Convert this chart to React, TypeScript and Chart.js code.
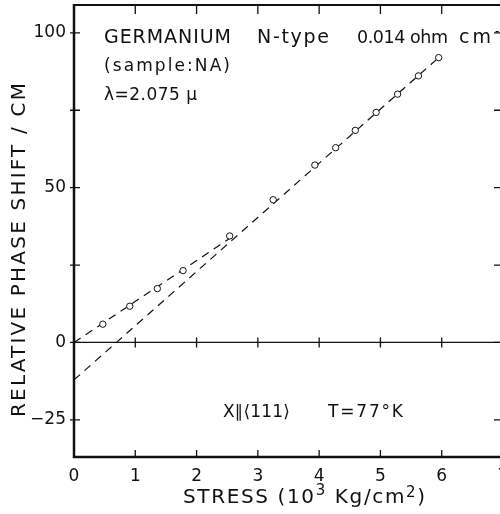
import React, { useEffect, useRef } from "react";
import { Chart, registerables } from "chart.js";

Chart.register(...registerables);

// ---- data ----
const stressX = [0.47, 0.91, 1.36, 1.78, 2.54, 3.25, 3.93, 4.27, 4.59, 4.93, 5.28, 5.62, 5.95];
const phaseY = [5.9, 11.7, 17.4, 23.2, 34.4, 46.1, 57.3, 62.9, 68.5, 74.3, 80.2, 86.1, 92.0];
const lowFitX = [0, 2.54];
const lowFitY = [0, 33.6];
const highFitX = [0, 5.95];
const highFitY = [-12.1, 92.0];
const xTickValues = [0, 1, 2, 3, 4, 5, 6, 7];
const xTickLabels = ["0", "1", "2", "3", "4", "5", "6", "7"];
const yTickValues = [-25, 0, 25, 50, 75, 100];
const yTickLabels = ["\u221225", "0", "", "50", "", "100"];
const X_MIN = 0;
const X_MAX = 7;
const Y_MIN = -37;
const Y_MAX = 109;

const FONT = '"DejaVu Sans", sans-serif';
const INK = "#111";

type Run = { s: string; size: number; rise?: number };

function drawRuns(ctx: CanvasRenderingContext2D, runs: Run[], x: number, y: number, width?: number) {
  let total = 0;
  let chars = 0;
  const nat: number[] = [];
  for (const r of runs) {
    ctx.font = `${r.size}px ${FONT}`;
    (ctx as any).letterSpacing = "0px";
    const w = ctx.measureText(r.s).width;
    nat.push(w);
    total += w;
    chars += Array.from(r.s).length;
  }
  const ls = width !== undefined ? (width - total) / Math.max(1, chars - 1) : 0;
  let cx = x;
  runs.forEach((r, i) => {
    ctx.font = `${r.size}px ${FONT}`;
    (ctx as any).letterSpacing = `${ls}px`;
    ctx.fillText(r.s, cx, y - (r.rise || 0));
    cx += nat[i] + ls * Array.from(r.s).length;
  });
  (ctx as any).letterSpacing = "0px";
  return cx;
}

const framePlugin = {
  id: "frame",
  beforeDatasetsDraw(chart: any) {
    const { ctx, chartArea, scales } = chart;
    const { left, right, top, bottom } = chartArea;
    const xs = scales.x;
    const ys = scales.y;
    ctx.save();
    ctx.strokeStyle = INK;
    ctx.lineCap = "butt";
    ctx.lineWidth = 2.5;
    ctx.beginPath();
    ctx.moveTo(left, top - 1);
    ctx.lineTo(left, bottom);
    ctx.lineTo(right + 2, bottom);
    ctx.stroke();
    ctx.lineWidth = 2;
    ctx.beginPath();
    ctx.moveTo(left, top);
    ctx.lineTo(right + 2, top);
    ctx.stroke();
    const y0 = ys.getPixelForValue(0);
    ctx.lineWidth = 1.2;
    ctx.beginPath();
    ctx.moveTo(left, y0);
    ctx.lineTo(right + 2, y0);
    ctx.stroke();
    ctx.lineWidth = 1.3;
    for (const v of xTickValues) {
      if (v === X_MIN || v === X_MAX) continue;
      const px = xs.getPixelForValue(v);
      ctx.beginPath();
      ctx.moveTo(px, top);
      ctx.lineTo(px, top + 9);
      ctx.moveTo(px, bottom);
      ctx.lineTo(px, bottom - 7);
      ctx.moveTo(px, y0 - 5);
      ctx.lineTo(px, y0 + 5);
      ctx.stroke();
    }
    for (const v of yTickValues) {
      const py = ys.getPixelForValue(v);
      ctx.beginPath();
      ctx.moveTo(left - 4, py);
      ctx.lineTo(left + 6, py);
      ctx.moveTo(right - 9, py);
      ctx.lineTo(right, py);
      ctx.stroke();
    }
    ctx.restore();
  },
  afterDraw(chart: any) {
    const { ctx } = chart;
    ctx.save();
    ctx.fillStyle = INK;
    ctx.textAlign = "left";
    ctx.textBaseline = "alphabetic";
    drawRuns(ctx, [{ s: "GERMANIUM", size: 19 }], 104, 43, 127);
    drawRuns(ctx, [{ s: "N-type", size: 19 }], 257, 43, 72);
    drawRuns(ctx, [{ s: "0.014 ohm", size: 17.5 }], 357, 43, 91);
    drawRuns(ctx, [{ s: "cm", size: 19 }], 459, 43, 32);
    drawRuns(ctx, [{ s: "-1", size: 12 }], 495, 35);
    drawRuns(ctx, [{ s: "(sample:NA)", size: 17 }], 104, 71, 126);
    drawRuns(ctx, [{ s: "\u03bb=2.075 \u03bc", size: 17 }], 104, 100, 93);
    drawRuns(ctx, [{ s: "X\u2225\u27e8111\u27e9", size: 17 }], 223, 417, 67);
    drawRuns(ctx, [{ s: "T=77\u00b0K", size: 17 }], 328, 417, 75);
    drawRuns(
      ctx,
      [
        { s: "STRESS (10", size: 20 },
        { s: "3", size: 15, rise: 8 },
        { s: " Kg/cm", size: 20 },
        { s: "2", size: 15, rise: 6 },
        { s: ")", size: 20 },
      ],
      183,
      503,
      242
    );
    ctx.translate(25, 250);
    ctx.rotate(-Math.PI / 2);
    drawRuns(ctx, [{ s: "RELATIVE PHASE SHIFT / CM", size: 20 }], -167, 0, 334);
    ctx.restore();
  },
};

function noPad(s: any) {
  s.paddingTop = 0;
  s.paddingBottom = 0;
  s.paddingLeft = 0;
  s.paddingRight = 0;
}

export default function App() {
  const ref = useRef<HTMLCanvasElement | null>(null);
  useEffect(() => {
    if (!ref.current) return;
    const chart = new Chart(ref.current, {
      type: "scatter",
      data: {
        datasets: [
          {
            label: "measured",
            data: stressX.map((x, i) => ({ x, y: phaseY[i] })),
            pointRadius: 3.2,
            pointBorderWidth: 1,
            pointBackgroundColor: "#fff",
            pointBorderColor: INK,
            showLine: false,
          },
          {
            label: "low-stress fit",
            data: lowFitX.map((x, i) => ({ x, y: lowFitY[i] })),
            showLine: true,
            borderColor: INK,
            borderWidth: 1.2,
            borderDash: [8, 6],
            pointRadius: 0,
          },
          {
            label: "high-stress fit",
            data: highFitX.map((x, i) => ({ x, y: highFitY[i] })),
            showLine: true,
            borderColor: INK,
            borderWidth: 1.2,
            borderDash: [8, 6],
            pointRadius: 0,
          },
        ],
      },
      options: {
        animation: false,
        responsive: false,
        layout: { padding: { left: 0, top: 4, right: 17, bottom: 0 } },
        plugins: { legend: { display: false }, tooltip: { enabled: false } },
        scales: {
          x: {
            type: "linear",
            min: X_MIN,
            max: X_MAX,
            afterFit: (s: any) => {
              s.height = 57;
              noPad(s);
            },
            afterBuildTicks: (s: any) => {
              s.ticks = xTickValues.map((v) => ({ value: v }));
            },
            grid: { display: false, drawTicks: false },
            border: { display: false },
            ticks: {
              padding: 9,
              color: INK,
              font: { family: FONT, size: 17 },
              maxRotation: 0,
              autoSkip: false,
              callback: (v: any) => xTickLabels[xTickValues.indexOf(Number(v))] ?? "",
            },
          },
          y: {
            type: "linear",
            min: Y_MIN,
            max: Y_MAX,
            afterFit: (s: any) => {
              s.width = 74;
              noPad(s);
            },
            afterBuildTicks: (s: any) => {
              s.ticks = yTickValues.map((v) => ({ value: v }));
            },
            grid: { display: false, drawTicks: false },
            border: { display: false },
            ticks: {
              padding: 8,
              color: INK,
              font: { family: FONT, size: 17 },
              autoSkip: false,
              callback: (v: any) => yTickLabels[yTickValues.indexOf(Number(v))] ?? "",
            },
          },
        },
      },
      plugins: [framePlugin],
    });
    return () => chart.destroy();
  }, []);

  return (
    <div
      style={{
        position: "absolute",
        left: 0,
        top: 0,
        width: 500,
        height: 514,
        overflow: "hidden",
        background: "#fff",
      }}
    >
      <canvas ref={ref} width={520} height={514} style={{ display: "block" }} />
    </div>
  );
}
